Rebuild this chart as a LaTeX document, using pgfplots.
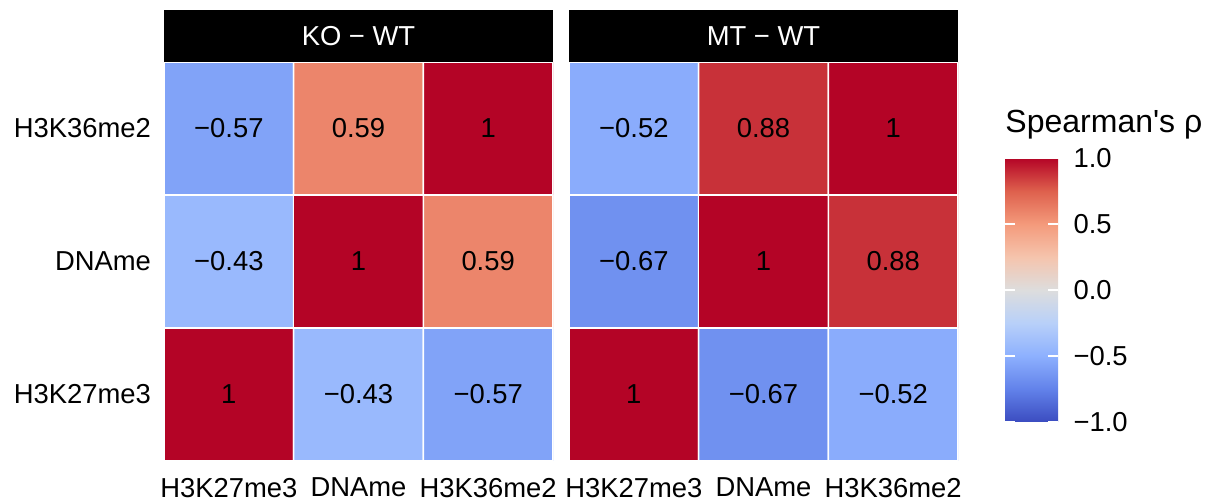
\documentclass[border=0pt]{standalone}
\usepackage{fontspec}
\setmainfont{Liberation Sans}
\newfontfamily\plainsans{Liberation Sans}
\usepackage{pgfplots}
\usepackage{pgfplotstable}
\pgfplotsset{compat=1.18}

\newcommand\lbl{\fontsize{13.7}{16}\selectfont}

% Spearman correlations between marks, one table per contrast
\pgfplotstableread{
x y rho lab
0 0 1     1
1 0 -0.43 −0.43
2 0 -0.57 −0.57
0 1 -0.43 −0.43
1 1 1     1
2 1 0.59  0.59
0 2 -0.57 −0.57
1 2 0.59  0.59
2 2 1     1
}\kowt

\pgfplotstableread{
x y rho lab
0 0 1     1
1 0 -0.67 −0.67
2 0 -0.52 −0.52
0 1 -0.67 −0.67
1 1 1     1
2 1 0.88  0.88
0 2 -0.52 −0.52
1 2 0.88  0.88
2 2 1     1
}\mtwt

\pgfplotsset{
  colormap={coolwarm}{rgb255=(59,76,192) rgb255=(98,130,234) rgb255=(141,176,254)
    rgb255=(184,208,249) rgb255=(221,221,221) rgb255=(245,196,173)
    rgb255=(244,154,123) rgb255=(222,96,77) rgb255=(180,4,38)},
  panel/.style={
    anchor=south west, scale only axis, width=194.5pt, height=199.5pt,
    xmin=-0.5, xmax=2.5, ymin=-0.5, ymax=2.5,
    axis line style={draw=none}, major tick length=0pt,
    xtick={0,1,2}, ytick={0,1,2},
    xticklabels={H3K27me3,DNAme,H3K36me2},
    tick label style={font=\lbl, text=black},
    xticklabel style={yshift=-5pt},
    yticklabel style={xshift=-3pt},
    colormap name=coolwarm, point meta min=-1, point meta max=1,
    every axis title/.style={fill=black, text=white, font=\lbl,
      minimum width=194.5pt, minimum height=26pt, inner sep=0pt,
      anchor=south, at={(0.5,1)}},
    nodes near coords align=center,
    every node near coord/.append style={font=\lbl, text=black, anchor=center},
  },
  cells/.style={matrix plot*, mesh/cols=3, point meta=explicit, draw=white, line width=0.8pt},
  values/.style={only marks, mark=none, nodes near coords, point meta=explicit symbolic},
}

\begin{document}
\begin{tikzpicture}
\useasboundingbox (0,0) rectangle (607pt,250.5pt);

\begin{axis}[panel, at={(82pt,20pt)}, title={KO − WT},
  yticklabels={H3K27me3,DNAme,H3K36me2}]
  \addplot[cells] table[x=x, y=y, meta=rho] {\kowt};
  \addplot[values] table[x=x, y=y, meta=lab] {\kowt};
\end{axis}

\begin{axis}[panel, at={(284.5pt,20pt)}, title={MT − WT}, yticklabels={},
  colorbar, colorbar/width=26.5pt,
  colorbar style={
    at={(parent axis.north east)}, anchor=north west,
    xshift=15pt, yshift=-48pt,
    scale only axis, width=26.5pt, height=132pt,
    axis line style={draw=none}, axis on top=true,
    ytick={-1,-0.5,0,0.5,1},
    yticklabels={−1.0,−0.5,0.0,0.5,1.0},
    ytick pos=both, yticklabel pos=right, ytick align=inside,
    major tick length=5pt,
    every major tick/.style={draw=white, line width=0.7pt},
    yticklabel style={font=\lbl, text=black, xshift=4.2pt},
    every axis title/.style={anchor=base west, at={(0,1)}, yshift=12.5pt, inner sep=0pt},
    title={\plainsans\fontsize{16}{19}\selectfont Spearman's ρ},
  }]
  \addplot[cells] table[x=x, y=y, meta=rho] {\mtwt};
  \addplot[values] table[x=x, y=y, meta=lab] {\mtwt};
\end{axis}
\end{tikzpicture}
\end{document}
